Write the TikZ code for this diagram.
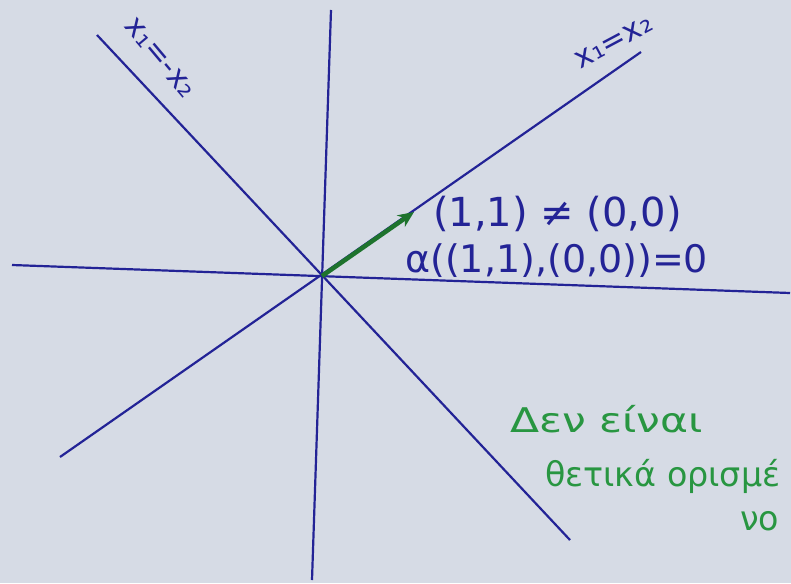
\documentclass[tikz,border=0pt]{standalone}
\usepackage{fontspec}
\setmainfont{DejaVu Sans}
\usetikzlibrary{arrows.meta}
\definecolor{paper}{RGB}{214,219,229}
\definecolor{ink}{RGB}{35,35,150}
\definecolor{greenink}{RGB}{40,150,65}
\definecolor{arrowgreen}{RGB}{30,115,45}
\tikzset{
  axis/.style={draw=ink, line width=2.2pt},
  bluetext/.style={text=ink, inner sep=0pt},
  greentext/.style={text=greenink, inner sep=0pt, anchor=base west, font=\fontsize{34}{38}\selectfont},
  vec/.style={draw=arrowgreen, line width=4.5pt, -{Stealth[length=16pt,width=14pt]}}
}
\begin{document}
\begin{tikzpicture}[x=1pt,y=-1pt]
\useasboundingbox (0,0) rectangle (791,583);
\clip (0,0) rectangle (791,583);
\fill[paper] (0,0) rectangle (791,583);
% axes
\coordinate (vt) at (331,10);
\coordinate (vb) at (312,580);
\coordinate (hl) at (12,265);
\coordinate (hr) at (790,293);
\coordinate (dl) at (60,457);
\coordinate (dr) at (641,52);
\coordinate (al) at (97,35);
\coordinate (ar) at (570,540);
\coordinate (o) at (322,276);
\coordinate (tip) at (414,212);
\draw[axis] (vt) -- (vb);
\draw[axis] (hl) -- (hr);
\draw[axis] (dl) -- (dr);
\draw[axis] (al) -- (ar);
\draw[vec] (o) -- (tip);
% labels on lines
\node[bluetext, rotate=-50, font=\fontsize{30}{32}\selectfont] (lanti) at (160,58) {x₁=-x₂};
\node[bluetext, rotate=28, font=\fontsize{30}{32}\selectfont] (ldiag) at (614,42) {x₁=x₂};
% formulas
\node[bluetext, anchor=base west, font=\fontsize{40}{44}\selectfont] (f1) at (433,226) {(1,1) ≠ (0,0)};
\node[bluetext, anchor=base west, font=\fontsize{38}{42}\selectfont] (f2) at (405,272) {α((1,1),(0,0))=0};
% green remark
\node[greentext, xscale=1.25] (g1) at (510,432) {Δεν είναι};
\node[greentext, xscale=0.98] (g2) at (545,486) {θετικά ορισμέ};
\node[greentext, xscale=0.98] (g3) at (740,530) {νο};
\end{tikzpicture}
\end{document}
